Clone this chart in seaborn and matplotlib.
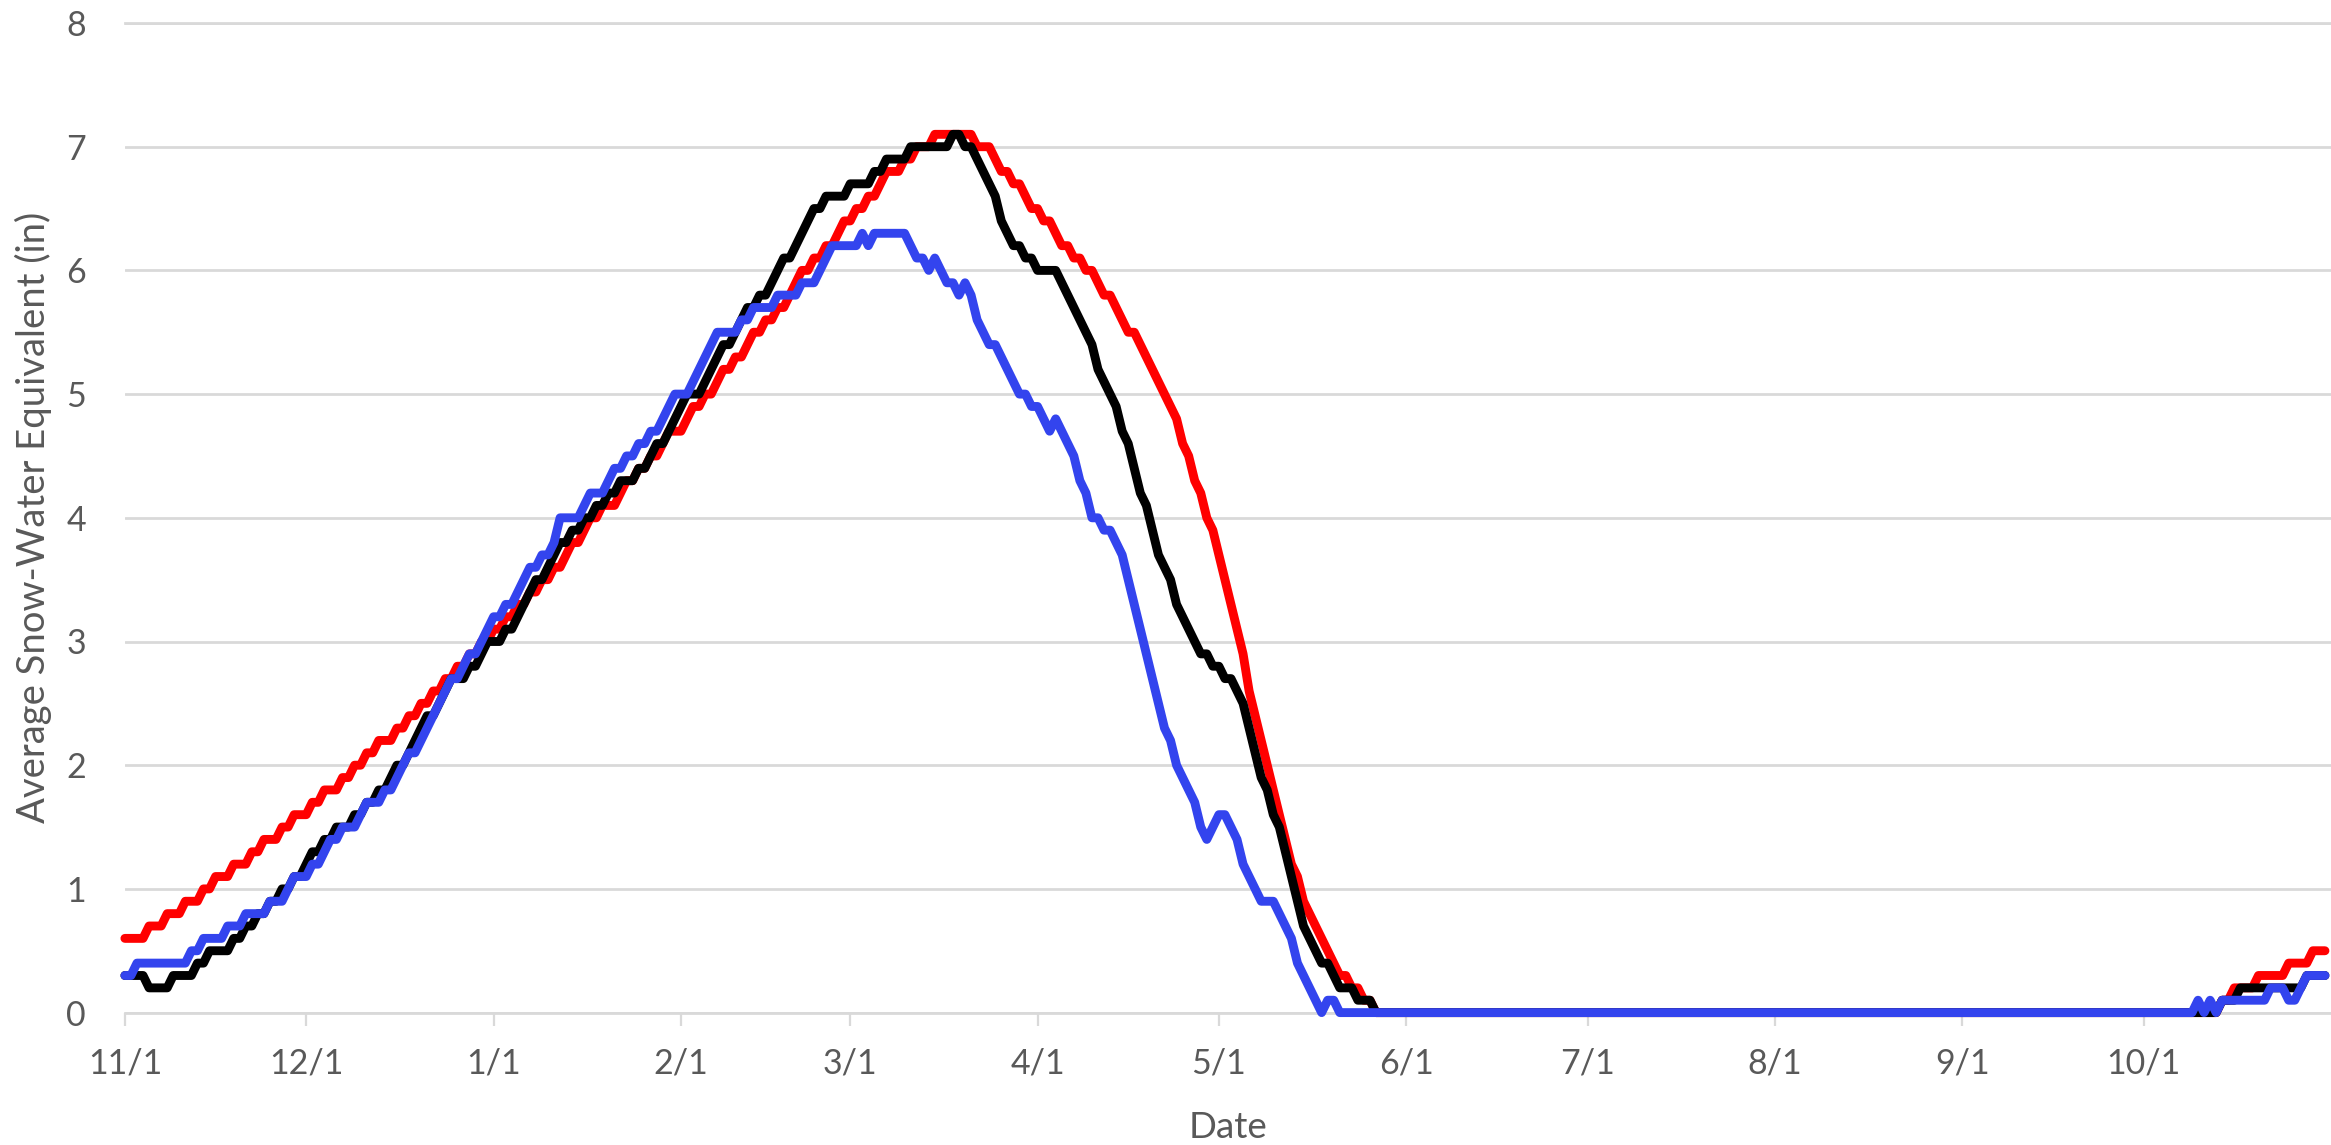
import matplotlib
matplotlib.use("Agg")
import matplotlib.pyplot as plt
import pandas as pd
import seaborn as sns

# ---------------- data (daily values, 11/1 .. 10/31) ----------------
series_names = ["Red", "Black", "Blue"]
series_colors = {"Red": "#FF0000", "Black": "#000000", "Blue": "#3344EE"}

red = [
    0.6, 0.6, 0.6, 0.6, 0.7, 0.7, 0.7, 0.8, 0.8, 0.8,
    0.9, 0.9, 0.9, 1.0, 1.0, 1.1, 1.1, 1.1, 1.2, 1.2,
    1.2, 1.3, 1.3, 1.4, 1.4, 1.4, 1.5, 1.5, 1.6, 1.6,
    1.6, 1.7, 1.7, 1.8, 1.8, 1.8, 1.9, 1.9, 2.0, 2.0,
    2.1, 2.1, 2.2, 2.2, 2.2, 2.3, 2.3, 2.4, 2.4, 2.5,
    2.5, 2.6, 2.6, 2.7, 2.7, 2.8, 2.8, 2.9, 2.9, 3.0,
    3.0, 3.1, 3.1, 3.2, 3.2, 3.3, 3.3, 3.4, 3.4, 3.5,
    3.5, 3.6, 3.6, 3.7, 3.8, 3.8, 3.9, 4.0, 4.0, 4.1,
    4.1, 4.1, 4.2, 4.3, 4.3, 4.4, 4.4, 4.5, 4.5, 4.6,
    4.7, 4.7, 4.7, 4.8, 4.9, 4.9, 5.0, 5.0, 5.1, 5.2,
    5.2, 5.3, 5.3, 5.4, 5.5, 5.5, 5.6, 5.6, 5.7, 5.7,
    5.8, 5.9, 6.0, 6.0, 6.1, 6.1, 6.2, 6.2, 6.3, 6.4,
    6.4, 6.5, 6.5, 6.6, 6.6, 6.7, 6.8, 6.8, 6.8, 6.9,
    6.9, 7.0, 7.0, 7.0, 7.1, 7.1, 7.1, 7.1, 7.1, 7.1,
    7.1, 7.0, 7.0, 7.0, 6.9, 6.8, 6.8, 6.7, 6.7, 6.6,
    6.5, 6.5, 6.4, 6.4, 6.3, 6.2, 6.2, 6.1, 6.1, 6.0,
    6.0, 5.9, 5.8, 5.8, 5.7, 5.6, 5.5, 5.5, 5.4, 5.3,
    5.2, 5.1, 5.0, 4.9, 4.8, 4.6, 4.5, 4.3, 4.2, 4.0,
    3.9, 3.7, 3.5, 3.3, 3.1, 2.9, 2.6, 2.4, 2.2, 2.0,
    1.8, 1.6, 1.4, 1.2, 1.1, 0.9, 0.8, 0.7, 0.6, 0.5,
    0.4, 0.3, 0.3, 0.2, 0.2, 0.1, 0.1, 0.0, 0.0, 0.0,
] + [0.0] * 137 + [
    0.1, 0.1, 0.2, 0.2, 0.2, 0.2, 0.3, 0.3, 0.3, 0.3,
    0.3, 0.4, 0.4, 0.4, 0.4, 0.5, 0.5, 0.5,
]

black = [
    0.3, 0.3, 0.3, 0.3, 0.2, 0.2, 0.2, 0.2, 0.3, 0.3,
    0.3, 0.3, 0.4, 0.4, 0.5, 0.5, 0.5, 0.5, 0.6, 0.6,
    0.7, 0.7, 0.8, 0.8, 0.9, 0.9, 1.0, 1.0, 1.1, 1.1,
    1.2, 1.3, 1.3, 1.4, 1.4, 1.5, 1.5, 1.5, 1.6, 1.6,
    1.7, 1.7, 1.8, 1.8, 1.9, 2.0, 2.0, 2.1, 2.2, 2.3,
    2.4, 2.4, 2.5, 2.6, 2.7, 2.7, 2.7, 2.8, 2.8, 2.9,
    3.0, 3.0, 3.0, 3.1, 3.1, 3.2, 3.3, 3.4, 3.5, 3.5,
    3.6, 3.7, 3.8, 3.8, 3.9, 3.9, 4.0, 4.0, 4.1, 4.1,
    4.2, 4.2, 4.3, 4.3, 4.3, 4.4, 4.4, 4.5, 4.6, 4.6,
    4.7, 4.8, 4.9, 5.0, 5.0, 5.0, 5.1, 5.2, 5.3, 5.4,
    5.4, 5.5, 5.6, 5.7, 5.7, 5.8, 5.8, 5.9, 6.0, 6.1,
    6.1, 6.2, 6.3, 6.4, 6.5, 6.5, 6.6, 6.6, 6.6, 6.6,
    6.7, 6.7, 6.7, 6.7, 6.8, 6.8, 6.9, 6.9, 6.9, 6.9,
    7.0, 7.0, 7.0, 7.0, 7.0, 7.0, 7.0, 7.1, 7.1, 7.0,
    7.0, 6.9, 6.8, 6.7, 6.6, 6.4, 6.3, 6.2, 6.2, 6.1,
    6.1, 6.0, 6.0, 6.0, 6.0, 5.9, 5.8, 5.7, 5.6, 5.5,
    5.4, 5.2, 5.1, 5.0, 4.9, 4.7, 4.6, 4.4, 4.2, 4.1,
    3.9, 3.7, 3.6, 3.5, 3.3, 3.2, 3.1, 3.0, 2.9, 2.9,
    2.8, 2.8, 2.7, 2.7, 2.6, 2.5, 2.3, 2.1, 1.9, 1.8,
    1.6, 1.5, 1.3, 1.1, 0.9, 0.7, 0.6, 0.5, 0.4, 0.4,
    0.3, 0.2, 0.2, 0.2, 0.1, 0.1, 0.1, 0.0, 0.0, 0.0,
] + [0.0] * 137 + [
    0.1, 0.1, 0.1, 0.2, 0.2, 0.2, 0.2, 0.2, 0.2, 0.2,
    0.2, 0.2, 0.2, 0.2, 0.3, 0.3, 0.3, 0.3,
]

blue = [
    0.3, 0.3, 0.4, 0.4, 0.4, 0.4, 0.4, 0.4, 0.4, 0.4,
    0.4, 0.5, 0.5, 0.6, 0.6, 0.6, 0.6, 0.7, 0.7, 0.7,
    0.8, 0.8, 0.8, 0.8, 0.9, 0.9, 0.9, 1.0, 1.1, 1.1,
    1.1, 1.2, 1.2, 1.3, 1.4, 1.4, 1.5, 1.5, 1.5, 1.6,
    1.7, 1.7, 1.7, 1.8, 1.8, 1.9, 2.0, 2.1, 2.1, 2.2,
    2.3, 2.4, 2.5, 2.6, 2.7, 2.7, 2.8, 2.9, 2.9, 3.0,
    3.1, 3.2, 3.2, 3.3, 3.3, 3.4, 3.5, 3.6, 3.6, 3.7,
    3.7, 3.8, 4.0, 4.0, 4.0, 4.0, 4.1, 4.2, 4.2, 4.2,
    4.3, 4.4, 4.4, 4.5, 4.5, 4.6, 4.6, 4.7, 4.7, 4.8,
    4.9, 5.0, 5.0, 5.0, 5.1, 5.2, 5.3, 5.4, 5.5, 5.5,
    5.5, 5.5, 5.6, 5.6, 5.7, 5.7, 5.7, 5.7, 5.8, 5.8,
    5.8, 5.8, 5.9, 5.9, 5.9, 6.0, 6.1, 6.2, 6.2, 6.2,
    6.2, 6.2, 6.3, 6.2, 6.3, 6.3, 6.3, 6.3, 6.3, 6.3,
    6.2, 6.1, 6.1, 6.0, 6.1, 6.0, 5.9, 5.9, 5.8, 5.9,
    5.8, 5.6, 5.5, 5.4, 5.4, 5.3, 5.2, 5.1, 5.0, 5.0,
    4.9, 4.9, 4.8, 4.7, 4.8, 4.7, 4.6, 4.5, 4.3, 4.2,
    4.0, 4.0, 3.9, 3.9, 3.8, 3.7, 3.5, 3.3, 3.1, 2.9,
    2.7, 2.5, 2.3, 2.2, 2.0, 1.9, 1.8, 1.7, 1.5, 1.4,
    1.5, 1.6, 1.6, 1.5, 1.4, 1.2, 1.1, 1.0, 0.9, 0.9,
    0.9, 0.8, 0.7, 0.6, 0.4, 0.3, 0.2, 0.1, 0.0, 0.1,
    0.1, 0.0, 0.0, 0.0, 0.0, 0.0, 0.0, 0.0, 0.0, 0.0,
] + [0.0] * 132 + [
    0.0, 0.1, 0.0, 0.1, 0.0, 0.1, 0.1, 0.1, 0.1, 0.1,
    0.1, 0.1, 0.1, 0.2, 0.2, 0.2, 0.1, 0.1, 0.2, 0.3,
    0.3, 0.3, 0.3,
]

tick_labels = ["11/1", "12/1", "1/1", "2/1", "3/1", "4/1", "5/1",
               "6/1", "7/1", "8/1", "9/1", "10/1"]
y_ticks = [0, 1, 2, 3, 4, 5, 6, 7, 8]
x_label = "Date"
y_label = "Average Snow-Water Equivalent (in)"

# ---------------- frame ----------------
dates = pd.date_range("2018-11-01", periods=len(red), freq="D")
wide = pd.DataFrame({"Date": dates, "Red": red, "Black": black, "Blue": blue})
df = wide.melt(id_vars="Date", var_name="Series", value_name="SWE")

# ---------------- style ----------------
sns.set_theme(style="white")
plt.rcParams["font.family"] = ["Lato", "DejaVu Sans"]
text_color = "#595959"
grid_color = "#D9D9D9"

W, H = 2331, 1145
fig = plt.figure(figsize=(W / 100, H / 100), dpi=100)
x0_px, x1_px = 124.9, 2331
y0_px, y8_px = 1012.6, 23.0
ax = fig.add_axes([x0_px / W, 1 - y0_px / H, (x1_px - x0_px) / W, (y0_px - y8_px) / H])

sns.lineplot(data=df, x="Date", y="SWE", hue="Series", hue_order=series_names,
             palette=series_colors, linewidth=6.4, legend=False, errorbar=None,
             ax=ax)
for ln in ax.lines:
    ln.set_solid_joinstyle("round")
    ln.set_solid_capstyle("round")
    ln.set_clip_on(False)

ax.set_xlim(dates[0], dates[0] + pd.Timedelta(days=365))
ax.set_ylim(0, 8)

tick_dates = pd.date_range(dates[0], periods=len(tick_labels), freq="MS")
ax.set_xticks(tick_dates)
ax.set_xticklabels(tick_labels)
ax.set_yticks(y_ticks)
ax.set_yticklabels([str(v) for v in y_ticks])

ax.set_axisbelow(True)
ax.yaxis.grid(True, color=grid_color, linewidth=2)
ax.xaxis.grid(False)
for side in ["left", "right"]:
    ax.spines[side].set_visible(False)
for side in ["top", "bottom"]:
    ax.spines[side].set_visible(True)
    ax.spines[side].set_color(grid_color)
    ax.spines[side].set_linewidth(2)
    ax.spines[side].set_zorder(0.5)

ax.tick_params(axis="x", which="major", direction="out", length=9, width=1.6,
               color=grid_color, labelsize=24.5, labelcolor=text_color, pad=16,
               bottom=True)
ax.tick_params(axis="y", which="major", length=0, labelsize=24.5,
               labelcolor=text_color, pad=28, left=True)

ax.set_xlabel(x_label, fontsize=26.5, color=text_color, va="center")
ax.set_ylabel(y_label, fontsize=27.5, color=text_color, va="center")
axh_px = y0_px - y8_px
axw_px = x1_px - x0_px
ax.xaxis.set_label_coords(0.5, -(1127 - y0_px) / axh_px)
ax.yaxis.set_label_coords(-(x0_px - 33) / axw_px, 0.5)

fig.savefig("out.png", dpi=100, facecolor="white")
